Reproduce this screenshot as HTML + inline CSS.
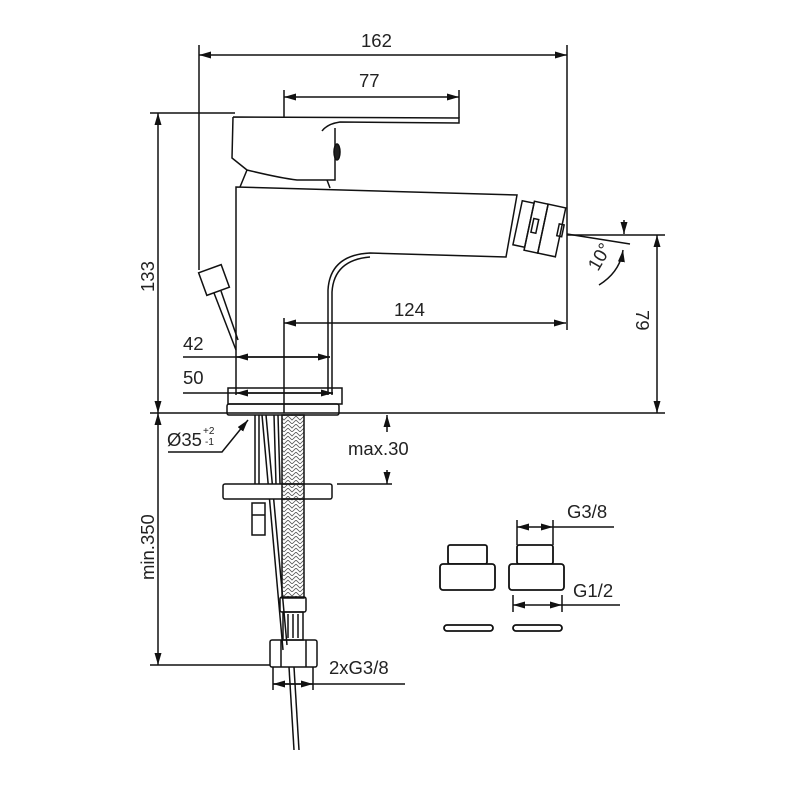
<!DOCTYPE html>
<html><head><meta charset="utf-8"><style>
html,body{margin:0;padding:0;background:#fff;}
svg{display:block;}
text{font-family:"Liberation Sans",sans-serif;fill:#222;}
</style></head><body>
<svg width="800" height="800" viewBox="0 0 800 800" xmlns="http://www.w3.org/2000/svg">
<defs>
<marker id="a" viewBox="0 0 12 7" refX="12" refY="3.5" markerWidth="12" markerHeight="7" orient="auto-start-reverse" markerUnits="userSpaceOnUse">
<path d="M0,0 L12,3.5 L0,7 Z" fill="#111"/></marker>
<pattern id="br" width="8" height="8" patternUnits="userSpaceOnUse">
<path d="M0,0 L4,4 L8,0 M0,4 L4,8 L8,4" stroke="#555" stroke-width="0.8" fill="none"/></pattern>
</defs>
<g stroke="#111" stroke-width="1.5" fill="none">
<line x1="199" y1="45" x2="199" y2="263"/>
<line x1="567" y1="45" x2="567" y2="330"/>
<line x1="199" y1="55" x2="567" y2="55" marker-start="url(#a)" marker-end="url(#a)"/>
<line x1="284" y1="90" x2="284" y2="117"/>
<line x1="459" y1="90" x2="459" y2="118"/>
<line x1="284" y1="97" x2="459" y2="97" marker-start="url(#a)" marker-end="url(#a)"/>
<line x1="150" y1="113" x2="235" y2="113"/>
<line x1="158" y1="113" x2="158" y2="413" marker-start="url(#a)" marker-end="url(#a)"/>
<path d="M233,117 L459,118 L459,123 L340,122 Q327,124 322,131 M233,117 L232,158 L247,170 Q280,178 297,180 L335,180 L335,128"/>
<path d="M247,170 L240,187 M327,180 L330,188"/>
<ellipse cx="337" cy="152" rx="3" ry="8" fill="#222"/>
<path d="M236,395 L236,187 L517,195 L506,257 L370,253 Q330,255 328,290 L328,395"/>
<path d="M332,395 L332,292 Q334,260 370,257"/>
<g transform="rotate(12,540,228)">
<rect x="517" y="205" width="12" height="45"/>
<rect x="529" y="203" width="14" height="50"/>
<rect x="543" y="203" width="18" height="50"/>
<rect x="532" y="220" width="5" height="14"/>
<rect x="558" y="220" width="5" height="12"/>
</g>
<line x1="199" y1="263" x2="199" y2="270"/>
<g transform="rotate(-20,214,280)"><rect x="202" y="268" width="24" height="24"/></g>
<line x1="214" y1="293" x2="236" y2="350"/>
<line x1="221" y1="291" x2="238" y2="340"/>
<rect x="228" y="388" width="114" height="16"/>
<rect x="227" y="404" width="112" height="11" rx="2"/>
<line x1="183" y1="357" x2="330" y2="357"/>
<line x1="236" y1="357" x2="330" y2="357" marker-start="url(#a)" marker-end="url(#a)"/>
<line x1="183" y1="393" x2="333" y2="393"/>
<line x1="236" y1="393" x2="333" y2="393" marker-start="url(#a)" marker-end="url(#a)"/>
<line x1="284" y1="318" x2="284" y2="413"/>
<line x1="284" y1="323" x2="566" y2="323" marker-start="url(#a)" marker-end="url(#a)"/>
<line x1="150" y1="413" x2="665" y2="413"/>
<line x1="567" y1="235" x2="665" y2="235"/>
<line x1="657" y1="235" x2="657" y2="413" marker-start="url(#a)" marker-end="url(#a)"/>
<line x1="567" y1="234" x2="630" y2="244"/>
<line x1="624" y1="220" x2="624" y2="234" marker-end="url(#a)"/>
<path d="M599,285 Q620,272 623,250" marker-end="url(#a)"/>
<polyline points="168,452 222,452 248,420" marker-end="url(#a)"/>
<line x1="255" y1="415" x2="255" y2="484"/>
<line x1="259" y1="415" x2="259" y2="484"/>
<line x1="262" y1="415" x2="283" y2="650"/>
<line x1="266" y1="415" x2="287" y2="645"/>
<line x1="274" y1="415" x2="276" y2="484"/>
<line x1="278" y1="415" x2="280" y2="484"/>
<rect x="282" y="415" width="22" height="183" fill="url(#br)"/>
<rect x="223" y="484" width="109" height="15" rx="2" fill="#fff"/>
<rect x="282" y="484" width="22" height="15" fill="url(#br)"/>
<rect x="252" y="503" width="13" height="32"/>
<line x1="252" y1="515" x2="265" y2="515"/>
<line x1="337" y1="484" x2="392" y2="484"/>
<line x1="387" y1="432" x2="387" y2="415" marker-end="url(#a)"/>
<line x1="387" y1="470" x2="387" y2="484" marker-end="url(#a)"/>
<rect x="280" y="597" width="26" height="15" rx="2"/>
<rect x="283" y="612" width="20" height="28"/>
<line x1="288" y1="614" x2="288" y2="638"/><line x1="293" y1="614" x2="293" y2="638"/><line x1="298" y1="614" x2="298" y2="638"/>
<rect x="270" y="640" width="47" height="27" rx="2"/>
<line x1="281" y1="640" x2="281" y2="667"/><line x1="306" y1="640" x2="306" y2="667"/>
<line x1="289" y1="667" x2="294" y2="750"/>
<line x1="294" y1="667" x2="299" y2="750"/>
<line x1="150" y1="665" x2="270" y2="665"/>
<line x1="158" y1="413" x2="158" y2="665" marker-start="url(#a)" marker-end="url(#a)"/>
<line x1="273" y1="667" x2="273" y2="690"/>
<line x1="313" y1="667" x2="313" y2="690"/>
<line x1="273" y1="684" x2="405" y2="684"/>
<line x1="273" y1="684" x2="313" y2="684" marker-start="url(#a)" marker-end="url(#a)"/>
<rect x="448" y="545" width="39" height="19" rx="2" stroke-width="1.8"/>
<rect x="440" y="564" width="55" height="26" rx="3" stroke-width="1.8" fill="#fff"/>
<rect x="517" y="545" width="36" height="19" rx="2" stroke-width="1.8"/>
<rect x="509" y="564" width="55" height="26" rx="3" stroke-width="1.8" fill="#fff"/>
<rect x="444" y="625" width="49" height="6" rx="3" stroke-width="1.8"/>
<rect x="513" y="625" width="49" height="6" rx="3" stroke-width="1.8"/>
<line x1="517" y1="520" x2="517" y2="545"/>
<line x1="553" y1="520" x2="553" y2="545"/>
<line x1="553" y1="527" x2="614" y2="527"/>
<line x1="517" y1="527" x2="553" y2="527" marker-start="url(#a)" marker-end="url(#a)"/>
<line x1="513" y1="595" x2="513" y2="612"/>
<line x1="562" y1="595" x2="562" y2="612"/>
<line x1="562" y1="605" x2="620" y2="605"/>
<line x1="513" y1="605" x2="562" y2="605" marker-start="url(#a)" marker-end="url(#a)"/>
</g>
<g font-size="18.5">
<text x="361" y="47">162</text>
<text x="359" y="87">77</text>
<text x="394" y="316">124</text>
<text x="183" y="350">42</text>
<text x="183" y="384">50</text>
<text x="348" y="455">max.30</text>
<text x="329" y="674">2xG3/8</text>
<text x="567" y="518">G3/8</text>
<text x="573" y="597">G1/2</text>
<text x="167" y="446">Ø35</text>
<text x="203" y="434" font-size="10">+2</text>
<text x="205" y="445" font-size="10">-1</text>
<text transform="translate(154,292) rotate(-90)">133</text>
<text transform="translate(154,580) rotate(-90)">min.350</text>
<text transform="translate(636,310) rotate(90)">79</text>
<text transform="translate(598,272) rotate(-60)">10°</text>
</g>
</svg>
</body></html>
